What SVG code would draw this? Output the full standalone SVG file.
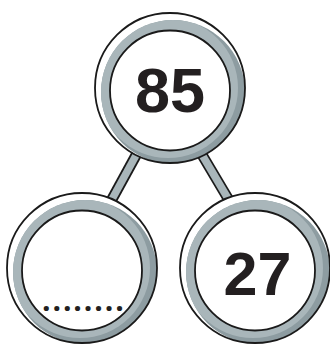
<svg xmlns="http://www.w3.org/2000/svg" width="330" height="347" viewBox="0 0 330 347">
  <style>
    .bg { fill: #ffffff; }
    .dark { fill: #8d9ca1; }
    .light { fill: #a9b6ba; }
    .outline { fill: none; stroke: #1a1a1a; stroke-width: 1.8; }
    .inner { fill: #ffffff; stroke: #1a1a1a; stroke-width: 1.8; }
    .num { font-family: "Liberation Sans", Arial, sans-serif; font-weight: bold; fill: #231f20; text-anchor: middle; }
    .dots { font-family: "Open Sans", "Liberation Sans", sans-serif; font-weight: bold; fill: #231f20; }
    .bar-edge { stroke: #1a1a1a; stroke-width: 11; fill: none; }
    .bar-fill { stroke: #a9b6ba; stroke-width: 7.5; fill: none; }
  </style>
  <defs>
    <clipPath id="outerClip"><circle r="75"/></clipPath>
    <clipPath id="greyClip"><circle cx="3" cy="4" r="72"/></clipPath>
  </defs>
  <rect width="330" height="347" class="bg"/>

  <g id="connectors">
    <line class="bar-edge" x1="140" y1="148" x2="105" y2="212"/>
    <line class="bar-fill" x1="140" y1="148" x2="105" y2="212"/>
    <line class="bar-edge" x1="198" y1="148" x2="236" y2="212"/>
    <line class="bar-fill" x1="198" y1="148" x2="236" y2="212"/>
  </g>

  <g id="node-top" transform="translate(170,88)">
    <circle r="75" class="bg"/>
    <g clip-path="url(#outerClip)">
      <circle cx="3" cy="4" r="72" class="dark"/>
      <circle cx="-2" cy="0" r="70" class="light" clip-path="url(#greyClip)"/>
    </g>
    <circle r="75" class="outline"/>
    <circle cx="0" cy="2.5" r="60" class="inner"/>
    <text class="num" x="0" y="24" font-size="63">85</text>
  </g>

  <g id="node-left" transform="translate(82,268)">
    <circle r="75" class="bg"/>
    <g clip-path="url(#outerClip)">
      <circle cx="3" cy="4" r="72" class="dark"/>
      <circle cx="-2" cy="0" r="70" class="light" clip-path="url(#greyClip)"/>
    </g>
    <circle r="75" class="outline"/>
    <circle cx="0" cy="2.5" r="60" class="inner"/>
    <text class="dots" x="-40" y="43" font-size="30" letter-spacing="1.9">........</text>
  </g>

  <g id="node-right" transform="translate(255,268)">
    <circle r="75" class="bg"/>
    <g clip-path="url(#outerClip)">
      <circle cx="3" cy="4" r="72" class="dark"/>
      <circle cx="-2" cy="0" r="70" class="light" clip-path="url(#greyClip)"/>
    </g>
    <circle r="75" class="outline"/>
    <circle cx="0" cy="2.5" r="60" class="inner"/>
    <text class="num" x="2.5" y="27" font-size="61">27</text>
  </g>
</svg>
